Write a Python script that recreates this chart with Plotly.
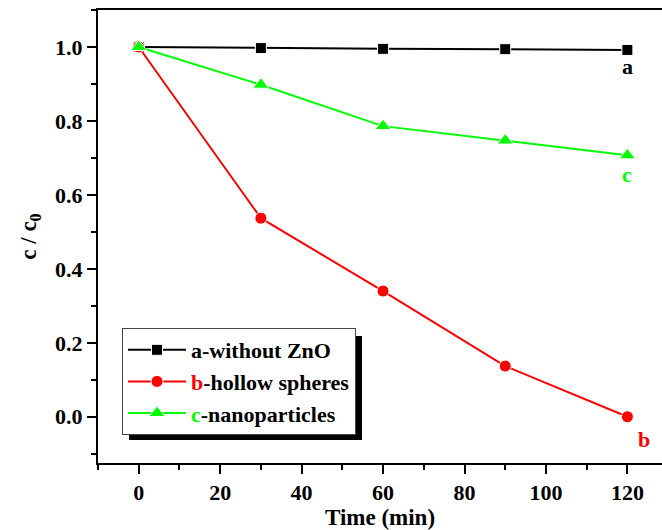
import plotly.graph_objects as go

time_min = [0, 30, 60, 90, 120]
a_without_zno = [1.0, 0.997, 0.995, 0.994, 0.992]
b_hollow_spheres = [1.0, 0.537, 0.34, 0.137, 0.0]
c_nanoparticles = [1.0, 0.898, 0.786, 0.747, 0.707]

names = [
    "a-without ZnO",
    "<span style='color:#ff0000'>b</span>-hollow spheres",
    "<span style='color:#00ff00'>c</span>-nanoparticles",
]
colors = ["#000000", "#ff0000", "#00ff00"]
symbols = ["square", "circle", "triangle-up"]
sizes = [11, 12, 14]
series = [a_without_zno, b_hollow_spheres, c_nanoparticles]

FONT = "Liberation Serif"

fig = go.Figure()
for ys, nm, col, sym, sz in zip(series, names, colors, symbols, sizes):
    fig.add_trace(go.Scatter(
        x=time_min, y=ys, name=nm, mode="lines+markers",
        line=dict(color=col, width=2),
        marker=dict(symbol=sym, size=sz, color=col, line=dict(color="white", width=1)),
    ))

# end labels
fig.add_annotation(x=time_min[-1], y=a_without_zno[-1], text="a", showarrow=False,
                   yshift=-17, font=dict(family=FONT, size=22, color="#000000", weight="bold"))
fig.add_annotation(x=time_min[-1], y=c_nanoparticles[-1], text="c", showarrow=False,
                   yshift=-19, font=dict(family=FONT, size=22, color="#00ff00", weight="bold"))
fig.add_annotation(x=time_min[-1], y=b_hollow_spheres[-1], text="b", showarrow=False,
                   xshift=17, yshift=-23, font=dict(family=FONT, size=22, color="#ff0000", weight="bold"))

# legend drop shadow
fig.add_shape(type="rect", xref="paper", yref="paper",
              x0=(129 - 98) / 564, x1=(362 - 98) / 564,
              y0=(463 - 440) / 453, y1=(463 - 336) / 453,
              fillcolor="black", line=dict(width=0), layer="above")

axis_common = dict(
    showline=True, linecolor="black", linewidth=2,
    ticks="outside", ticklen=9, tickwidth=2, tickcolor="black",
    showgrid=False, zeroline=False, automargin=False,
    tickfont=dict(family=FONT, size=22, color="black", weight="bold"),
)

fig.update_xaxes(
    range=[-10, 128.5], dtick=20, tick0=0, mirror=True,
    minor=dict(ticks="outside", ticklen=5, tickwidth=1.5, dtick=10, tick0=0, tickcolor="black"),
    title=dict(text="Time (min)", font=dict(family=FONT, size=23, color="black", weight="bold"), standoff=2),
    **axis_common,
)
fig.update_yaxes(
    range=[-0.125, 1.1], dtick=0.2, tick0=0, tickformat=".1f", mirror=False,
    minor=dict(ticks="outside", ticklen=5, tickwidth=1.5, dtick=0.1, tick0=0, tickcolor="black"),
    title=dict(text="c / c<sub>0</sub>", font=dict(family=FONT, size=23, color="black", weight="bold"), standoff=12),
    **axis_common,
)

fig.update_layout(
    width=662, height=530,
    margin=dict(l=98, r=0, t=10, b=67),
    plot_bgcolor="white", paper_bgcolor="white",
    showlegend=True,
    legend=dict(
        x=(122 - 98) / 564, y=(463 - 328) / 453, xanchor="left", yanchor="top",
        bgcolor="white", bordercolor="#444444", borderwidth=1,
        font=dict(family=FONT, size=22, color="black", weight="bold"),
        itemwidth=58, tracegroupgap=0,
    ),
)

fig.write_html("out.html", config={"displayModeBar": False},
               post_script="document.body.style.margin='0';document.body.style.overflow='hidden';")
